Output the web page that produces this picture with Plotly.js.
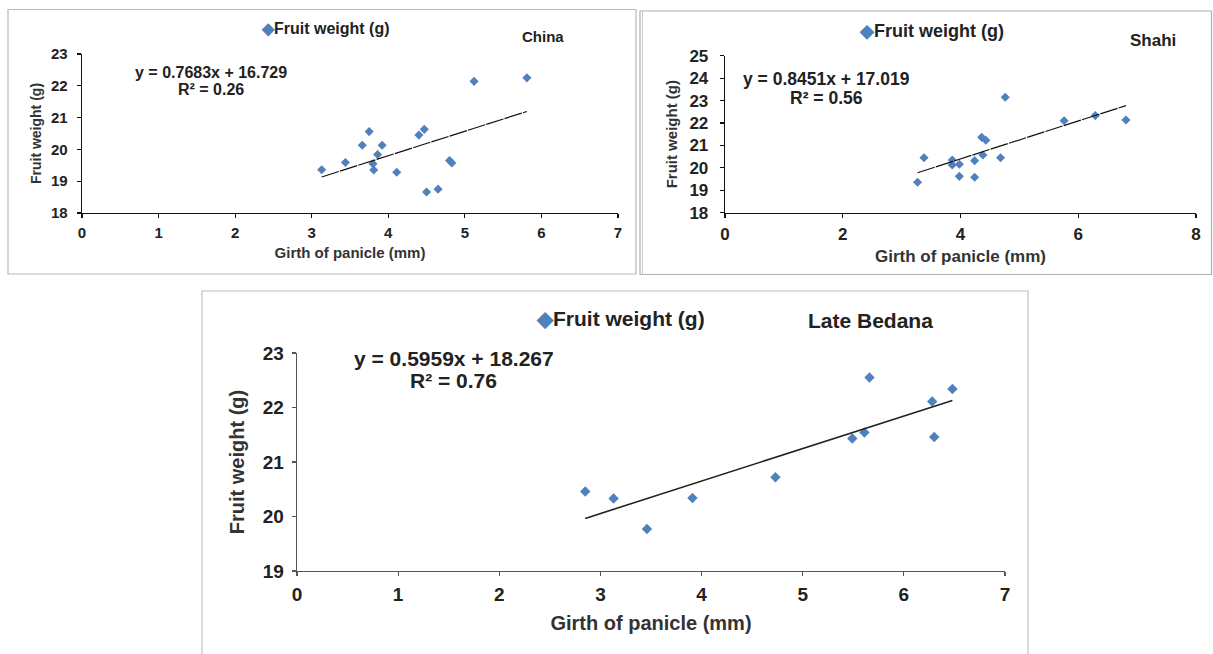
<!DOCTYPE html>
<html>
<head>
<meta charset="utf-8">
<script src="https://cdn.plot.ly/plotly-3.0.1.min.js"></script>
<style>
html,body{margin:0;padding:0;background:#fff;}
#chart{width:1213px;height:654px;}
</style>
</head>
<body>
<div id="chart"></div>
<script>
// ---- Data ----
const seriesName = "Fruit weight (g)";
const xTitle = "Girth of panicle (mm)";
const yTitle = "Fruit weight (g)";
const panelNames = ["China", "Shahi", "Late Bedana"];

const chinaX = [3.13,3.44,3.66,3.75,3.80,3.81,3.86,3.92,4.11,4.40,4.47,4.50,4.65,4.80,4.83,5.12,5.81];
const chinaY = [19.36,19.59,20.13,20.56,19.55,19.35,19.84,20.13,19.28,20.45,20.63,18.66,18.75,19.65,19.57,22.14,22.25];

const shahiX = [3.27,3.38,3.86,3.86,3.98,3.98,4.24,4.24,4.36,4.43,4.38,4.68,4.76,5.76,6.29,6.81];
const shahiY = [19.36,20.45,20.35,20.13,20.16,19.62,20.32,19.58,21.36,21.23,20.57,20.45,23.15,22.10,22.33,22.13];

const bedanaX = [2.85,3.13,3.46,3.91,4.73,5.49,5.61,5.66,6.28,6.30,6.48];
const bedanaY = [20.46,20.33,19.77,20.34,20.72,21.43,21.54,22.55,22.11,21.46,22.34];

const slopes = [0.7683, 0.8451, 0.5959];
const intercepts = [16.729, 17.019, 18.267];
const r2 = ["0.26", "0.56", "0.76"];

const xRanges = [[0,7],[0,8],[0,7]];
const yRanges = [[18,23],[18,25],[19,23]];
const xDtick = [1,2,1];

// ---- Layout helpers ----
const W = 1213, H = 654;
const px = v => v / W;
const py = v => 1 - v / H;
const blue = "#4f81bd";
const arial = "Liberation Sans, Arial, sans-serif";
const narrow = "Liberation Sans Narrow, Arial Narrow, Liberation Sans, Arial, sans-serif";

const xsets = [chinaX, shahiX, bedanaX];
const ysets = [chinaY, shahiY, bedanaY];
const axisSuffix = ["", "2", "3"];
const traces = [];
for (let i = 0; i < 3; i++) {
  const xa = "x" + axisSuffix[i], ya = "y" + axisSuffix[i];
  traces.push({
    type: "scatter", mode: "markers", name: seriesName,
    x: xsets[i], y: ysets[i], xaxis: xa, yaxis: ya,
    marker: {symbol: "diamond", color: blue, size: i === 2 ? 8 : 7},
    showlegend: false, cliponaxis: false, hoverinfo: "x+y"
  });
  const xmin = Math.min(...xsets[i]), xmax = Math.max(...xsets[i]);
  traces.push({
    type: "scatter", mode: "lines", name: "Linear (" + seriesName + ")",
    x: [xmin, xmax], y: [slopes[i]*xmin + intercepts[i], slopes[i]*xmax + intercepts[i]],
    xaxis: xa, yaxis: ya,
    line: {color: i === 2 ? "#222" : "#111", width: i === 2 ? 1.6 : 1.2, dash: i === 2 ? "solid" : "18px,1.2px"},
    showlegend: false, hoverinfo: "skip"
  });
}

function axisX(domain, range, dtick, size, tsize, fam, lc, standoff) {
  return {
    domain: domain, range: range, dtick: dtick, tick0: 0,
    showline: true, linecolor: lc, linewidth: 1.3, showgrid: false, zeroline: false,
    ticks: "outside", ticklen: 4, tickcolor: lc, tickwidth: 1.2, ticklabelstandoff: 2,
    tickfont: {family: fam, size: size, color: "#222", weight: "bold"},
    title: {text: xTitle, font: {family: fam, size: tsize, color: "#333", weight: "bold"}, standoff: standoff},
    fixedrange: true
  };
}
function axisY(domain, range, size, tsize, fam, lc, standoff, lstand) {
  return {
    domain: domain, range: range, dtick: 1, tick0: 0,
    showline: true, linecolor: lc, linewidth: 1.3, showgrid: false, zeroline: false,
    ticks: "outside", ticklen: 4, tickcolor: lc, tickwidth: 1.2, ticklabelstandoff: lstand,
    tickfont: {family: fam, size: size, color: "#222", weight: "bold"},
    title: {text: yTitle, font: {family: fam, size: tsize, color: "#333", weight: "bold"}, standoff: standoff},
    fixedrange: true
  };
}

const layout = {
  width: W, height: H,
  margin: {l: 0, r: 0, t: 0, b: 0},
  paper_bgcolor: "#fff", plot_bgcolor: "rgba(0,0,0,0)",
  showlegend: false,
  xaxis: Object.assign(axisX([px(82), px(618)], xRanges[0], xDtick[0], 15, 15, arial, "#111", 7), {anchor: "y"}),
  yaxis: Object.assign(axisY([py(213), py(54)], yRanges[0], 15, 14, arial, "#111", 6, 6), {anchor: "x"}),
  xaxis2: Object.assign(axisX([px(725), px(1196)], xRanges[1], xDtick[1], 17, 17, arial, "#111", 6), {anchor: "y2"}),
  yaxis2: Object.assign(axisY([py(212.7), py(55.7)], yRanges[1], 17, 15, arial, "#111", 8, 8), {anchor: "x2"}),
  xaxis3: Object.assign(axisX([px(297), px(1005)], xRanges[2], xDtick[2], 19, 20, narrow, "#555", 12), {anchor: "y3"}),
  yaxis3: Object.assign(axisY([py(571), py(353)], yRanges[2], 19, 20, narrow, "#555", 12, 4), {anchor: "x3"}),
  shapes: [
    {type: "rect", xref: "paper", yref: "paper", x0: px(8), x1: px(636), y0: py(274), y1: py(9.5), line: {color: "#b8b8b8", width: 1.2}},
    {type: "rect", xref: "paper", yref: "paper", x0: px(640), x1: px(1211.5), y0: py(274.5), y1: py(11), line: {color: "#b0b0b0", width: 1.2}},
    {type: "line", xref: "paper", yref: "paper", x0: px(642.5), x1: px(642.5), y0: py(274.5), y1: py(11), line: {color: "#c8c8c8", width: 1}},
    {type: "rect", xref: "paper", yref: "paper", x0: px(202), x1: px(1028), y0: py(660), y1: py(291), line: {color: "#c0c0c0", width: 1.2}}
  ],
  annotations: []
};

const ann = (text, x, y, size, fam) => ({
  xref: "paper", yref: "paper", x: px(x), y: py(y), xanchor: "center", yanchor: "middle",
  text: text, showarrow: false, font: {family: fam, size: size, color: "#222", weight: "bold"}
});
const legendText = () => '<span style="color:' + blue + '">◆</span>' + seriesName;
const eqText = i => "y = " + slopes[i] + "x + " + intercepts[i];
const r2Text = i => "R² = " + r2[i];

layout.annotations.push(
  ann(legendText(), 325, 28, 16, arial),
  ann(panelNames[0], 543, 37, 15, arial),
  ann(eqText(0), 211, 72.5, 16, arial),
  ann(r2Text(0), 211, 89.5, 16, arial),

  ann(legendText(), 932, 31, 18, arial),
  ann(panelNames[1], 1153, 40, 17, arial),
  ann(eqText(1), 826, 79, 17.5, arial),
  ann(r2Text(1), 826, 98, 17.5, arial),

  ann(legendText(), 620, 318, 21, narrow),
  ann(panelNames[2], 870, 320, 21, narrow),
  ann(eqText(2), 454, 358, 21, narrow),
  ann(r2Text(2), 454, 381, 21, narrow)
);

Plotly.newPlot("chart", traces, layout, {staticPlot: true, displayModeBar: false});
</script>
</body>
</html>
